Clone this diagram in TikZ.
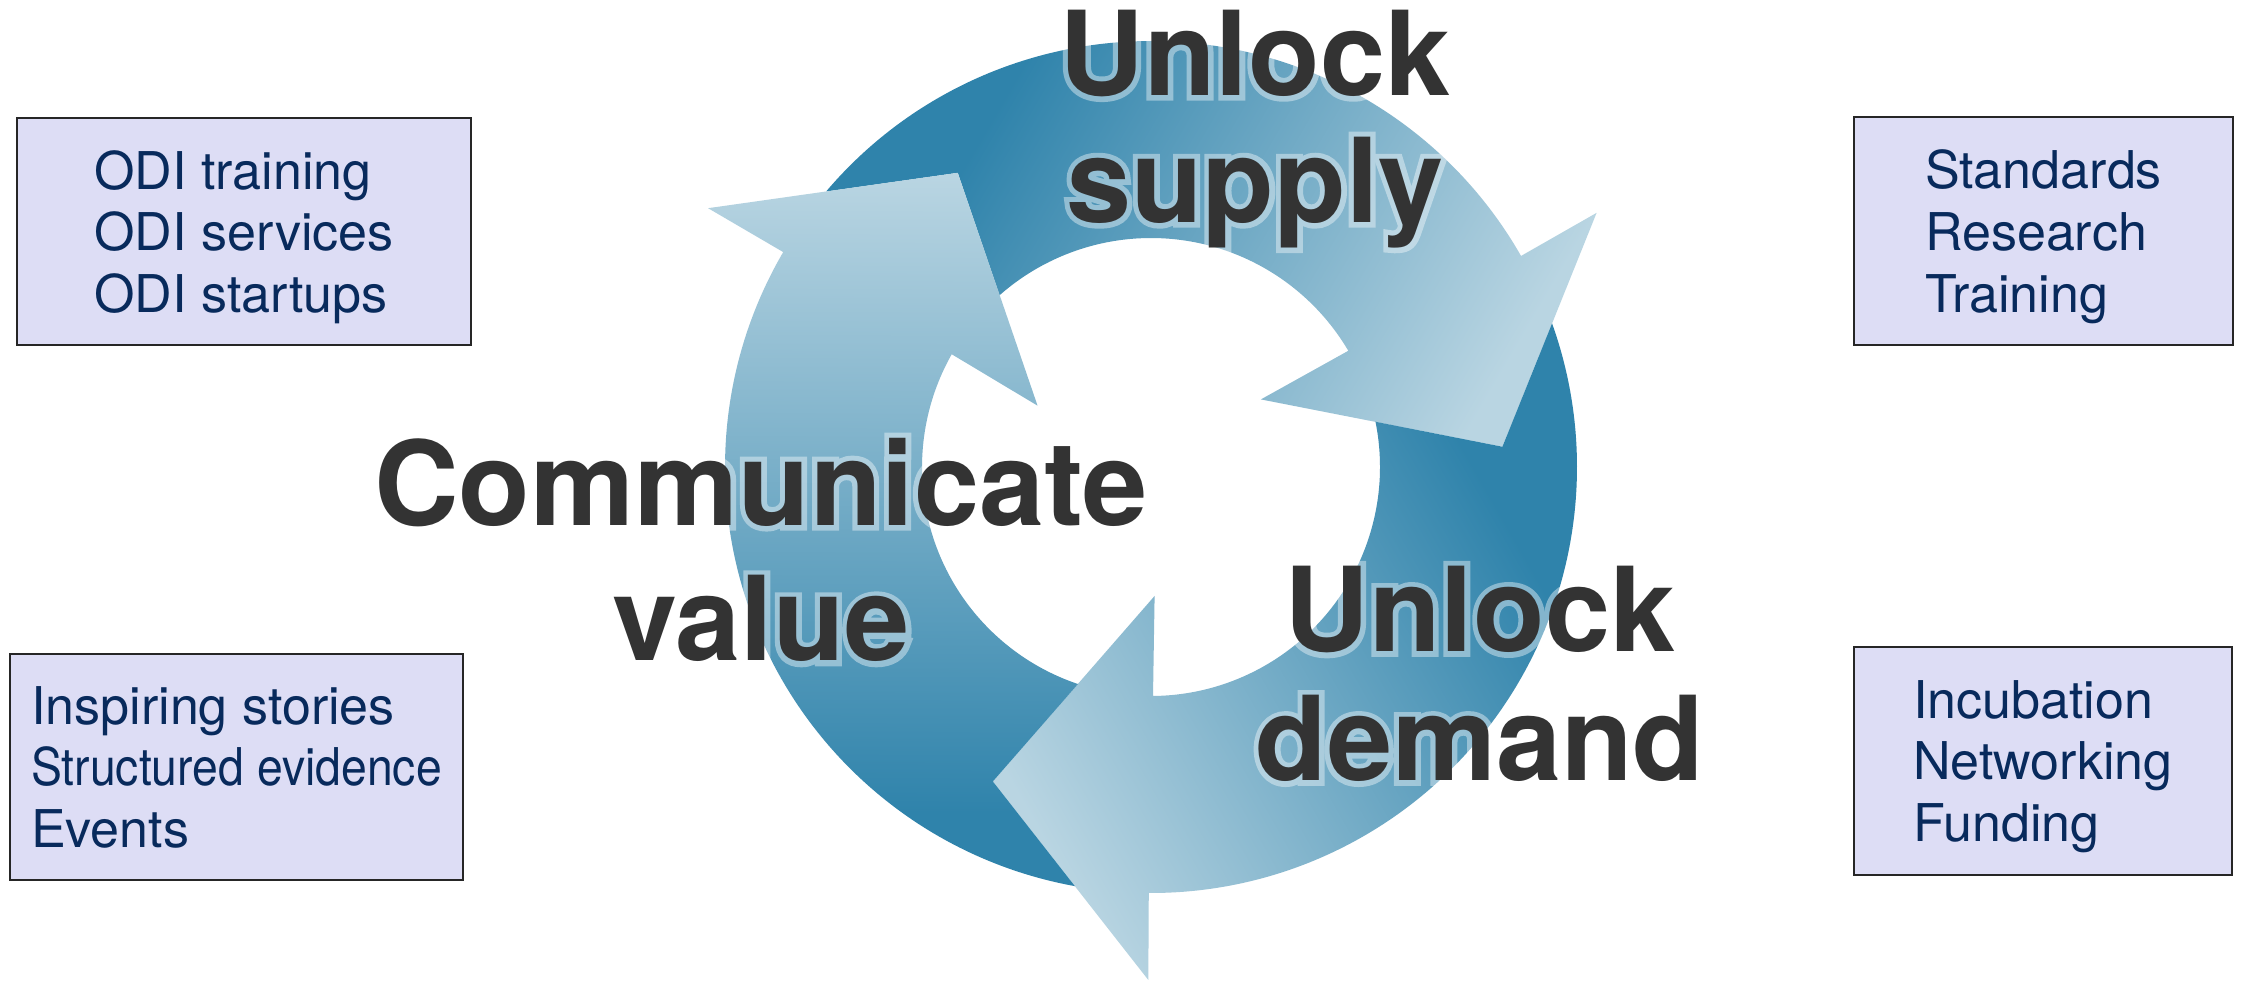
\documentclass[tikz,border=0pt]{standalone}
\usepackage{fontspec}
\setmainfont{TeX Gyre Heros}
\newfontfamily\glowfamily[BoldFeatures={FakeBold=9}]{TeX Gyre Heros}
\usepackage{graphicx}
\usetikzlibrary{positioning}

% arrow colours and the shading of one arrow (dark tail, light head)
\definecolor{cycledark}{RGB}{47,131,171}
\definecolor{cyclelight}{RGB}{185,213,226}
\pgfdeclareverticalshading{cyclefill}{100bp}{color(0bp)=(cycledark); color(30bp)=(cycledark); color(75bp)=(cyclelight); color(100bp)=(cyclelight)}

\newcommand\boxfont{\fontsize{14.8}{17.6}\selectfont}
\newcommand\bigfont[1]{\fontsize{33.3}{#1}\selectfont\bfseries}
\newcommand\glowfont[1]{\fontsize{33.3}{#1}\selectfont\glowfamily\bfseries}

\begin{document}
\begin{tikzpicture}[x=0.01cm, y=0.01cm,
    infobox/.style={draw=black!85, line width=0.55pt, fill=boxfill, text=boxtext,
        align=left, font=\boxfont, inner sep=0pt, text depth=0pt},
    bigtext/.style={text=labelgray, align=center, inner sep=0pt}]
    % Define consistent colors
    \definecolor{labelgray}{RGB}{51,51,51}
    \definecolor{boxfill}{RGB}{221,221,245}
    \definecolor{boxtext}{RGB}{8,42,92}

    \fill[white] (0,0) rectangle (2243,-982);
    \useasboundingbox (0,0) rectangle (2243,-982);

    % Cycle of three arrows
    \begin{scope}[shift={(1151,-467)}]
        \coordinate (hub) at (0,0);
        \foreach \b/\s in {29.7/-120.3, -90.3/119.7, 149.7/-0.3}
            \shade[shading=cyclefill, shading angle=\s]
                ({\b+110}:426) -- ({\b+93.6}:352) -- ({\b+101.7}:229)
                arc[start angle=\b+101.7, end angle=\b+0.8, radius=229]
                -- ({\b+1.9}:129) -- ({\b-26.4}:352) -- (\b:513) -- (\b:426)
                arc[start angle=\b, end angle=\b+110, radius=426] -- cycle;
    \end{scope}

    % Soft glow behind the labels
    \begin{scope}[transparency group, opacity=0.4]
        \node[bigtext, font=\glowfont{36.1}, text=white] (supplyglow) at (1255,-129) {Unlock\\supply};
        \node[bigtext, font=\glowfont{38.6}, text=white] (valueglow) at (761,-550) {Communicate\\value};
        \node[bigtext, font=\glowfont{36.7}, text=white] (demandglow) at (1480,-674) {Unlock\\demand};
    \end{scope}

    % Labels for the arrows
    \node[bigtext, font=\bigfont{36.1}] (supply) at (1255,-129) {Unlock\\supply};
    \node[bigtext, font=\bigfont{38.6}] (value) at (761,-550) {Communicate\\value};
    \node[bigtext, font=\bigfont{36.7}] (demand) at (1480,-674) {Unlock\\demand};

    % Boxes in the corners
    \node[infobox, minimum width=4.54cm, minimum height=2.27cm] (odi) at (244,-231.5)
        {ODI training\\ODI services\\ODI startups};
    \node[infobox, minimum width=4.53cm, minimum height=2.26cm] (stories) at (236.5,-767)
        {Inspiring stories\\\scalebox{0.89}[1]{Structured evidence}\\Events};
    \node[infobox, minimum width=3.79cm, minimum height=2.28cm] (standards) at (2043.5,-231)
        {Standards\\Research\\Training};
    \node[infobox, minimum width=3.78cm, minimum height=2.28cm] (incubation) at (2043,-761)
        {Incubation\\Networking\\Funding};
\end{tikzpicture}
\end{document}
